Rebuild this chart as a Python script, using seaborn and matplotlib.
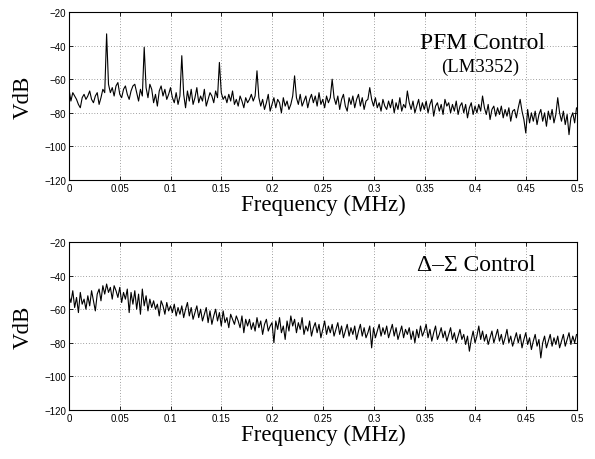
import numpy as np
import pandas as pd
import matplotlib
matplotlib.use("Agg")
import matplotlib.pyplot as plt
import seaborn as sns

# frequency grid (MHz), 271 bins
freq_step = 0.00185
n_bins = 271

# PFM control spectrum (LM3352), VdB
pfm_vdb = [
    -66, -73, -68, -70, -72, -75, -77, -71, -69, -72, -70, -67, -72, -74, -70, -68, -75, -71, -66, -68,
    -33, -63, -68, -65, -70, -64, -62, -69, -71, -66, -64, -69, -72, -67, -64, -63, -68, -73, -66, -70,
    -41, -65, -71, -63, -66, -74, -69, -76, -67, -64, -70, -66, -72, -69, -65, -71, -74, -68, -75, -70,
    -46, -69, -77, -67, -73, -66, -75, -71, -65, -74, -70, -73, -66, -76, -72, -68, -70, -74, -67, -71,
    -50, -68, -72, -70, -74, -69, -73, -67, -75, -72, -76, -70, -73, -77, -71, -74, -72, -69, -73, -70,
    -55, -71, -76, -72, -78, -74, -69, -79, -75, -71, -77, -72, -74, -80, -71, -76, -73, -78, -75, -70,
    -58, -71, -75, -69, -76, -73, -70, -77, -72, -69, -74, -70, -76, -68, -75, -72, -77, -70, -74, -71,
    -60, -71, -75, -70, -78, -72, -69, -76, -79, -71, -75, -70, -77, -72, -69, -76, -71, -78, -73, -72,
    -65, -72, -76, -71, -77, -74, -79, -72, -76, -78, -73, -77, -72, -80, -74, -78, -71, -79, -75, -77,
    -67, -74, -78, -73, -80, -76, -72, -79, -74, -78, -73, -80, -75, -72, -82, -76, -74, -79, -75, -81,
    -72, -76, -74, -80, -75, -79, -73, -81, -76, -74, -80, -75, -83, -77, -74, -81, -76, -80, -75, -79,
    -70, -77, -81, -75, -84, -78, -76, -82, -77, -81, -76, -83, -78, -82, -77, -85, -79, -78, -83, -77,
    -72, -79, -84, -92, -78, -86, -80, -85, -79, -87, -81, -78, -85, -80, -88, -79, -84, -78, -86, -81,
    -71, -80, -85, -79, -87, -81, -93, -83, -80, -86, -77,
]

# delta-sigma control spectrum, VdB
ds_vdb = [
    -52, -56, -49, -59, -53, -62, -50, -57, -54, -60, -52, -58, -49, -55, -61, -51, -48, -55, -46, -51,
    -45, -50, -47, -54, -46, -49, -53, -47, -56, -50, -54, -48, -62, -50, -57, -49, -60, -51, -63, -48,
    -58, -52, -61, -54, -59, -55, -60, -57, -64, -55, -58, -63, -56, -61, -58, -62, -57, -64, -59, -63,
    -58, -65, -60, -56, -64, -59, -66, -62, -58, -65, -60, -67, -63, -59, -68, -61, -69, -64, -60, -67,
    -62, -70, -61, -68, -65, -71, -63, -66, -69, -64, -67, -71, -64, -74, -66, -70, -66, -72, -68, -73,
    -65, -71, -67, -75, -69, -66, -73, -70, -68, -80, -67, -72, -65, -74, -70, -78, -67, -73, -64, -70,
    -66, -74, -68, -72, -65, -75, -70, -73, -67, -76, -71, -68, -74, -69, -77, -72, -67, -75, -70, -74,
    -69, -76, -72, -68, -75, -70, -77, -73, -69, -76, -71, -75, -70, -78, -73, -69, -76, -71, -77, -74,
    -70, -83, -71, -77, -73, -69, -76, -71, -75, -70, -77, -73, -69, -76, -71, -78, -74, -70, -77, -72,
    -75, -71, -78, -73, -80, -72, -77, -70, -76, -73, -69, -77, -72, -79, -74, -70, -78, -75, -71, -77,
    -73, -79, -75, -71, -78, -74, -80, -76, -72, -78, -75, -81, -76, -85, -78, -73, -80, -76, -70, -78,
    -73, -79, -75, -81, -77, -73, -80, -76, -72, -79, -75, -81, -77, -72, -80, -76, -82, -78, -74, -80,
    -75, -83, -78, -74, -81, -77, -84, -79, -75, -82, -78, -89, -80, -76, -83, -79, -75, -82, -77, -81,
    -76, -83, -79, -75, -82, -78, -74, -81, -76, -80, -75,
]

x_ticks = [0, 0.05, 0.1, 0.15, 0.2, 0.25, 0.3, 0.35, 0.4, 0.45, 0.5]
x_tick_labels = ["0", "0.05", "0.1", "0.15", "0.2", "0.25", "0.3", "0.35", "0.4", "0.45", "0.5"]
y_ticks = [-120, -100, -80, -60, -40, -20]

freq = np.arange(n_bins) * freq_step
df = pd.DataFrame({"freq": freq, "pfm": pfm_vdb, "ds": ds_vdb})

sns.set_style("ticks")
plt.rcParams["font.family"] = ["Liberation Sans", "DejaVu Sans"]
plt.rcParams["text.color"] = "black"
serif = ["Liberation Serif", "DejaVu Serif"]

fig = plt.figure(figsize=(5.95, 4.6), dpi=100)
ax1 = fig.add_axes([0.116, 0.6065, 0.8538, 0.3652])
ax2 = fig.add_axes([0.116, 0.1065, 0.8538, 0.3652])

for ax, col in [(ax1, "pfm"), (ax2, "ds")]:
    sns.lineplot(data=df, x="freq", y=col, ax=ax, color="black", linewidth=0.8)
    ax.set_xlim(0, 0.5)
    ax.set_ylim(-120, -20)
    ax.set_xticks(x_ticks)
    ax.set_xticklabels(x_tick_labels)
    ax.set_yticks(y_ticks)
    ax.set_yticklabels([str(v).replace("-", "\u2212") for v in y_ticks])
    ax.grid(True, linestyle=(0, (1, 3)), color="black", linewidth=0.5, alpha=0.7)
    ax.tick_params(direction="in", top=True, right=True, labelsize=7,
                   length=3, width=0.6, pad=2, colors="black")
    for s in ax.spines.values():
        s.set_linewidth(0.8)
        s.set_color("black")
    ax.set_xlabel("Frequency (MHz)", family=serif, fontsize=16.5, labelpad=1, color="black")
    ax.set_ylabel("VdB", family=serif, fontsize=16.5, labelpad=8, color="black")

ax1.text(0.814, 0.821, "PFM Control", transform=ax1.transAxes, family=serif,
         fontsize=17, ha="center", va="center", color="black")
ax1.text(0.81, 0.679, "(LM3352)", transform=ax1.transAxes, family=serif,
         fontsize=13.5, ha="center", va="center", color="black")
ax2.text(0.802, 0.869, "\u0394\u2013\u03a3 Control", transform=ax2.transAxes, family=serif,
         fontsize=17, ha="center", va="center", color="black")

fig.savefig("out.png", dpi=100, facecolor="white")
